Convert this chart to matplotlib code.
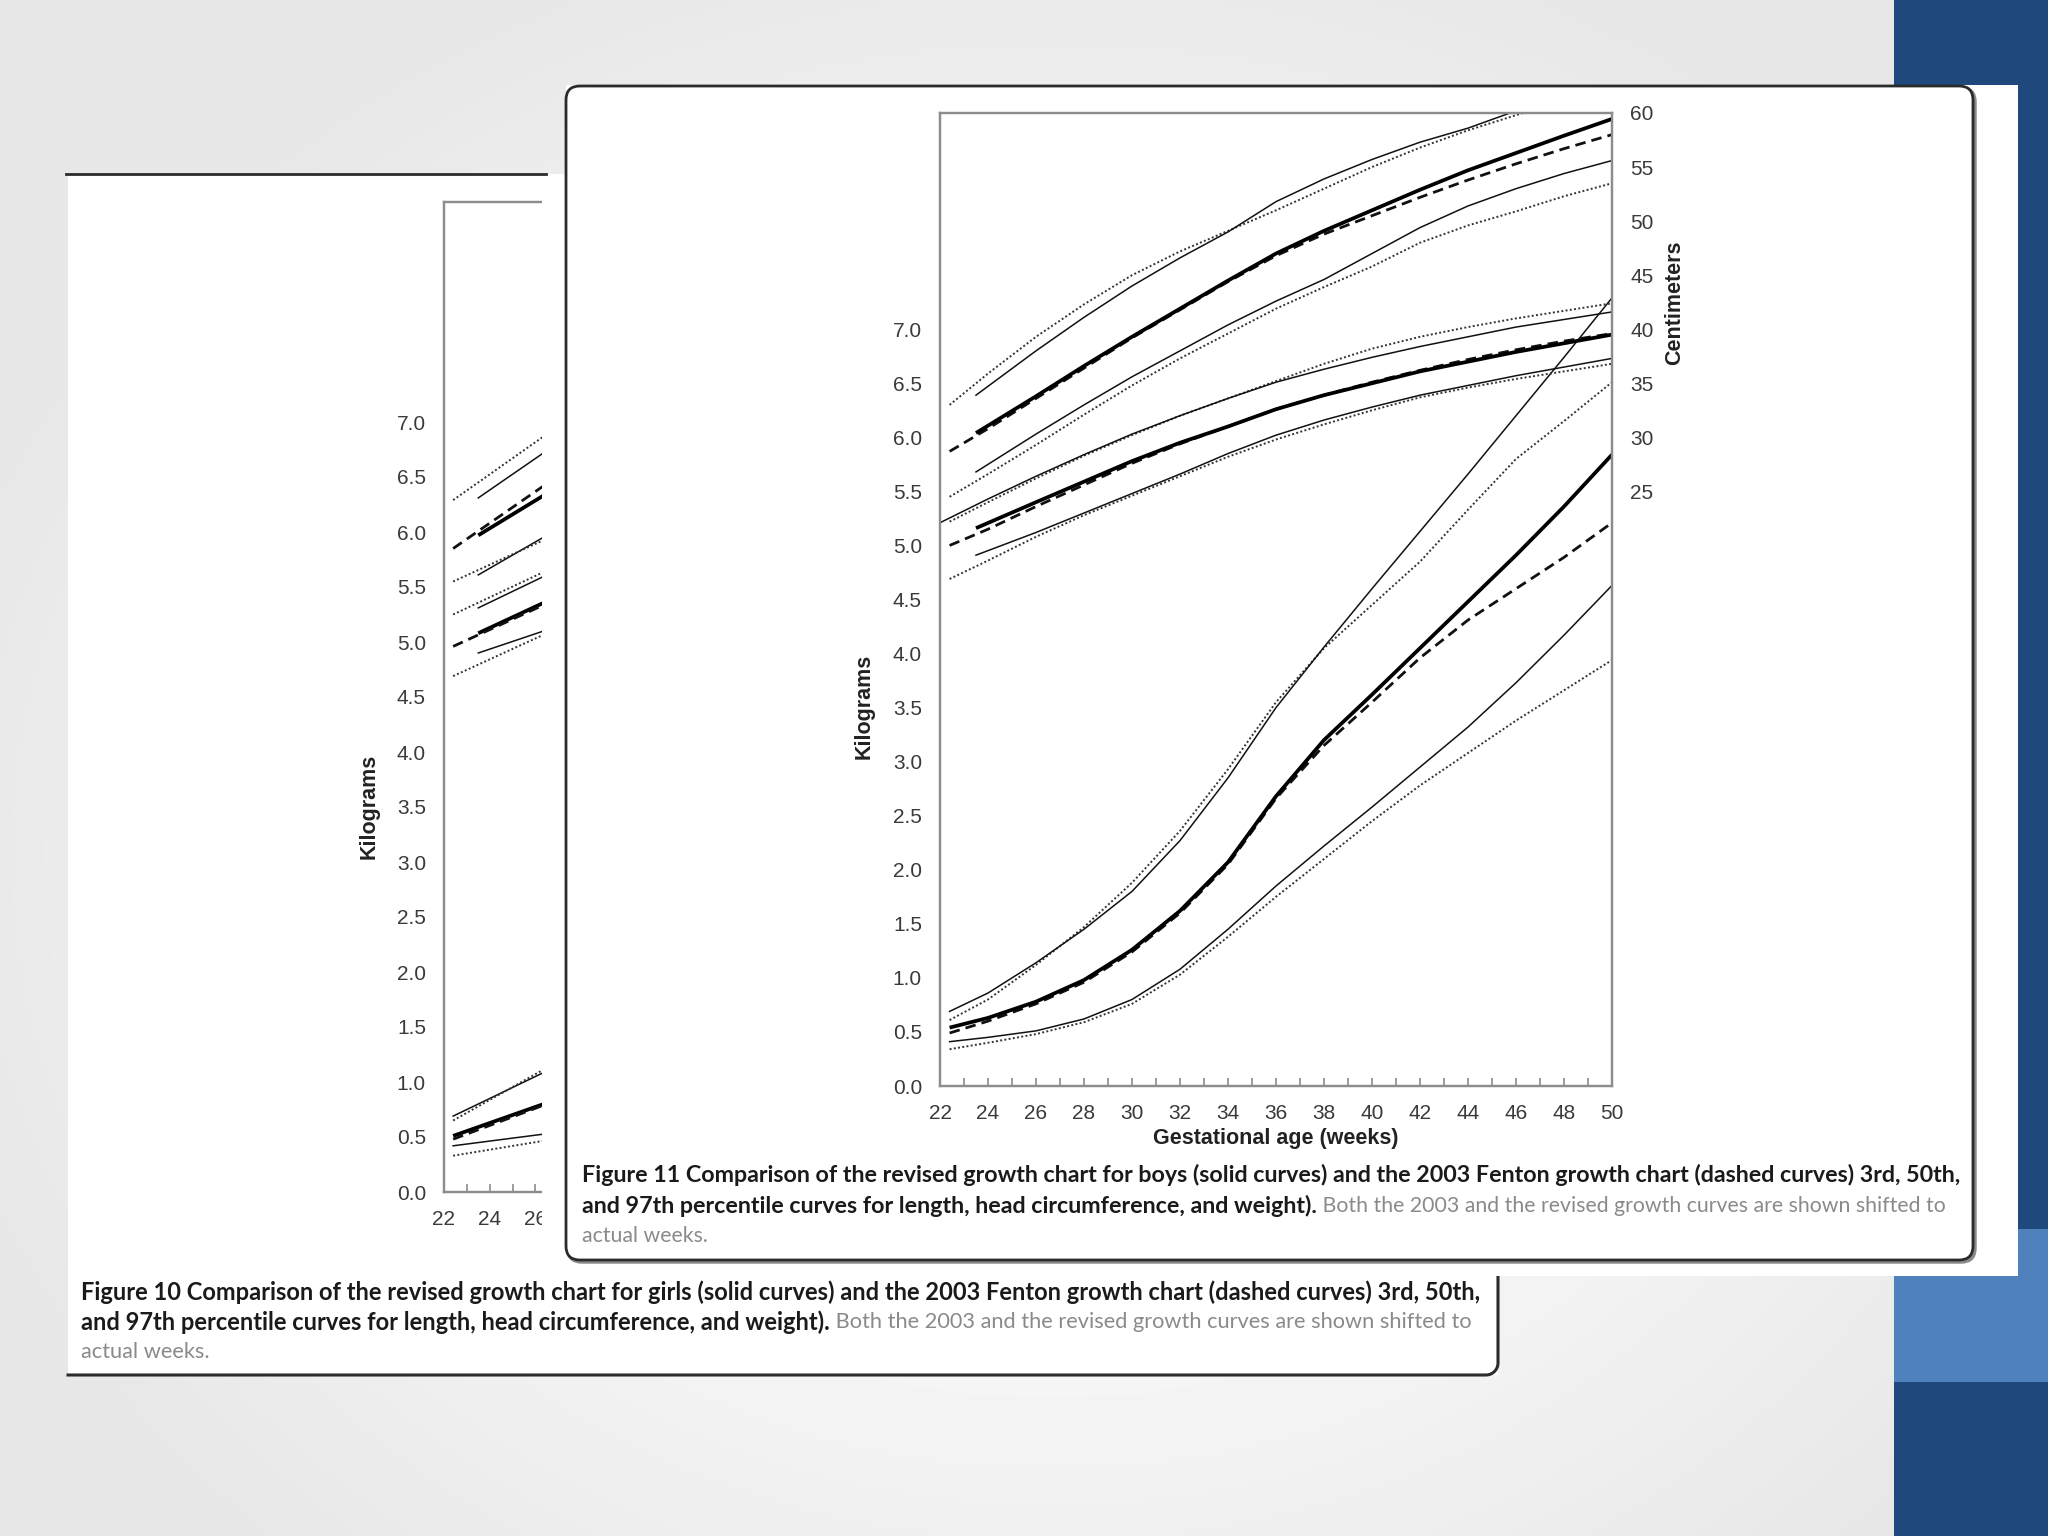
import numpy as np
import matplotlib
matplotlib.use('Agg')
import matplotlib.pyplot as plt
from matplotlib.patches import Rectangle, FancyBboxPatch

# ---------------- Figure 11 (boys) ----------------
wk_fen = [22.4, 24, 26, 28, 30, 32, 34, 36, 38, 40, 42, 44, 46, 48, 50]
wk_rev = [23.5, 26, 28, 30, 32, 34, 36, 38, 40, 42, 44, 46, 48, 50]
wk_hc97 = [22, 24, 26, 28, 30, 32, 34, 36, 38, 40, 42, 44, 46, 48, 50]

# length (cm)
len_rev97 = [33.9, 38.0, 41.1, 44.0, 46.6, 49.0, 51.8, 53.9, 55.7, 57.3, 58.6, 60.2, 61.5, 62.7]
len_fen97 = [33.0, 35.9, 39.3, 42.3, 45.0, 47.2, 49.1, 51.0, 53.0, 55.0, 56.8, 58.4, 59.8, 61.2, 62.5]
len_rev50 = [30.4, 33.8, 36.6, 39.3, 41.9, 44.5, 47.0, 49.1, 51.0, 52.9, 54.7, 56.3, 57.9, 59.45]
len_fen50 = [28.7, 30.8, 33.6, 36.4, 39.2, 41.8, 44.4, 46.8, 48.8, 50.5, 52.2, 53.8, 55.3, 56.7, 58.0]
len_rev3 = [26.8, 30.3, 33.0, 35.6, 38.0, 40.4, 42.6, 44.6, 47.0, 49.4, 51.4, 53.0, 54.4, 55.6]
len_fen3 = [24.5, 26.6, 29.3, 32.1, 34.8, 37.3, 39.6, 41.9, 43.9, 45.8, 48.0, 49.6, 50.9, 52.3, 53.5]

# head circumference (cm)
hc_rev97 = [22.1, 24.3, 26.4, 28.4, 30.3, 32.0, 33.6, 35.1, 36.3, 37.4, 38.4, 39.3, 40.2, 40.9, 41.6]
hc_fen97 = [22.2, 24.0, 26.2, 28.3, 30.2, 32.0, 33.6, 35.2, 36.8, 38.2, 39.3, 40.2, 41.0, 41.7, 42.4]
hc_rev50 = [21.6, 24.0, 25.9, 27.8, 29.5, 31.0, 32.6, 33.9, 35.0, 36.1, 37.0, 37.9, 38.7, 39.5]
hc_fen50 = [20.0, 21.5, 23.6, 25.6, 27.6, 29.4, 31.0, 32.6, 33.9, 35.1, 36.2, 37.2, 38.1, 38.9, 39.6]
hc_rev3 = [19.1, 21.2, 23.0, 24.8, 26.6, 28.5, 30.2, 31.6, 32.8, 33.9, 34.8, 35.7, 36.5, 37.3]
hc_fen3 = [16.9, 18.6, 20.8, 22.8, 24.6, 26.4, 28.2, 29.8, 31.2, 32.5, 33.7, 34.6, 35.4, 36.1, 36.8]

# weight (kg), all on the 22.4.. grid
wt_rev97 = [0.69, 0.86, 1.14, 1.45, 1.80, 2.27, 2.85, 3.50, 4.06, 4.60, 5.13, 5.66, 6.20, 6.74, 7.29]
wt_fen97 = [0.61, 0.80, 1.12, 1.47, 1.88, 2.36, 2.93, 3.55, 4.05, 4.45, 4.85, 5.33, 5.80, 6.15, 6.51]
wt_rev50 = [0.54, 0.63, 0.78, 0.98, 1.26, 1.62, 2.07, 2.68, 3.20, 3.62, 4.05, 4.48, 4.91, 5.36, 5.84]
wt_fen50 = [0.49, 0.60, 0.76, 0.96, 1.24, 1.60, 2.05, 2.66, 3.15, 3.55, 3.96, 4.31, 4.60, 4.89, 5.21]
wt_rev3 = [0.41, 0.45, 0.51, 0.62, 0.80, 1.08, 1.45, 1.85, 2.22, 2.58, 2.95, 3.32, 3.73, 4.17, 4.63]
wt_fen3 = [0.34, 0.40, 0.48, 0.59, 0.76, 1.03, 1.38, 1.75, 2.10, 2.45, 2.78, 3.08, 3.38, 3.66, 3.94]

# ---------------- Figure 10 (girls), only the left strip is visible ----------------
g_wk_fen = [22.4, 26.5, 28]
g_wk_rev = [23.5, 26.5, 28]
g_len = {'rev97': [33.1, 37.4, 39.5], 'fen97': [32.9, 38.9, 40.8],
         'rev50': [29.7, 33.5, 35.4], 'fen50': [28.5, 34.4, 36.4],
         'rev3': [26.1, 29.7, 31.5], 'fen3': [25.5, 29.4, 31.2]}
g_hc = {'rev97': [23.1, 26.1, 27.3], 'fen97': [22.5, 26.5, 27.9],
        'rev50': [20.8, 23.7, 24.8], 'fen50': [19.6, 23.5, 24.9],
        'rev3': [19.0, 21.1, 22.0], 'fen3': [16.9, 20.8, 22.1]}
g_wt = {'rev97': [0.69, 1.10, 1.32], 'fen97': [0.65, 1.13, 1.35],
        'rev50': [0.51, 0.81, 0.95], 'fen50': [0.48, 0.80, 0.94],
        'rev3': [0.42, 0.53, 0.60], 'fen3': [0.33, 0.47, 0.55]}

kg_ticks = np.arange(0, 7.01, 0.5)
cm_ticks = list(range(25, 61, 5))
week_ticks = list(range(22, 51, 2))

cap11 = [[("Figure 11 Comparison of the revised growth chart for boys (solid curves) and the 2003 Fenton growth chart (dashed curves) 3rd, 50th,", True)],
         [("and 97th percentile curves for length, head circumference, and weight).", True),
          (" Both the 2003 and the revised growth curves are shown shifted to", False)],
         [("actual weeks.", False)]]
cap10 = [[("Figure 10 Comparison of the revised growth chart for girls (solid curves) and the 2003 Fenton growth chart (dashed curves) 3rd, 50th,", True)],
         [("and 97th percentile curves for length, head circumference, and weight).", True),
          (" Both the 2003 and the revised growth curves are shown shifted to", False)],
         [("actual weeks.", False)]]

plt.rcParams['font.family'] = ['Liberation Sans', 'DejaVu Sans']
W, H = 2048, 1536
fig = plt.figure(figsize=(W / 100, H / 100), dpi=100)


def px_rect(left, top, right, bottom):
    return [left / W, 1 - bottom / H, (right - left) / W, (bottom - top) / H]


STY = {
    'rev_thin': dict(color='#111111', lw=1.1, ls='-'),
    'rev_thick': dict(color='#000000', lw=2.7, ls='-', solid_capstyle='butt'),
    'fen_dot': dict(color='#333333', lw=1.4, ls=(0, (1, 1.2))),
    'fen_dash': dict(color='#111111', lw=2.0, ls=(0, (3.8, 2.2))),
}


def style_axes(ax, ax2, show_cm, max_label_week=50):
    ax.set_xlim(22, 50)
    ax.set_ylim(0, 9)
    ax2.set_ylim(-30, 60)
    ax.set_yticks(kg_ticks)
    ax.set_yticklabels([f'{v:.1f}' for v in kg_ticks])
    ax.set_xticks(week_ticks)
    ax.set_xticklabels([str(w) if w <= max_label_week else '' for w in week_ticks])
    ax.set_xticks(range(23, 50, 2), minor=True)
    ax.tick_params(axis='x', which='both', direction='in', length=6, width=1.2,
                   color='#8c8c8c', labelsize=15, pad=13, labelcolor='#3a3a3a')
    ax.tick_params(axis='y', length=0, labelsize=15, pad=13, labelcolor='#3a3a3a')
    for s in list(ax.spines.values()) + list(ax2.spines.values()):
        s.set_color('#8c8c8c')
        s.set_linewidth(1.6)
    ax.set_ylabel('Kilograms', fontsize=15.5, fontweight='bold', color='#222222')
    if show_cm:
        ax2.set_yticks(cm_ticks)
        ax2.tick_params(axis='y', length=0, labelsize=15, pad=13, labelcolor='#3a3a3a')
        ax2.set_ylabel('Centimeters', fontsize=15.5, fontweight='bold', color='#222222')
        ax2.yaxis.set_label_coords(1.078, 0.805)
    else:
        ax2.set_yticks([])


# ---- slide background ----
bg = fig.add_axes([0, 0, 1, 1])
yy, xx = np.mgrid[0:H:8, 0:W:8]
r = np.hypot((xx - 1050) / 1150.0, (yy - 850) / 950.0)
shade = 0.99 - 0.085 * np.clip(r, 0, 1) ** 1.7
bg.imshow(shade, cmap='gray', vmin=0, vmax=1, extent=(0, W, H, 0),
          aspect='auto', interpolation='bilinear')
bg.set_xlim(0, W)
bg.set_ylim(H, 0)
bg.axis('off')
bg.add_patch(Rectangle((1894, 0), W - 1894, H, fc='#1f497d', ec='none'))
bg.add_patch(Rectangle((1894, 1229), W - 1894, 153, fc='#4f81bd', ec='none'))

# Figure 10 panel (white card, top and bottom rules)
bg.add_patch(Rectangle((68, 174), 1430, 1201, fc='white', ec='none'))
bg.plot([66, 546], [174, 174], color='#2b2b2b', lw=2)
ang = np.linspace(0, np.pi / 2, 12)
arc_x = 1486 + 12 * np.sin(ang)
arc_y = 1363 + 12 * np.cos(ang)
bg.plot(np.r_[68, arc_x, 1498], np.r_[1375, arc_y, 1270], color='#2b2b2b', lw=2.2)

# ---- Figure 10 axes (mostly hidden behind Figure 11) ----
ax10 = fig.add_axes(px_rect(444, 202, 1084, 1192))
ax10b = ax10.twinx()
style_axes(ax10, ax10b, False, max_label_week=26)
ax10.yaxis.set_label_coords(-0.10, 0.39)
pairs10 = [('rev97', 'rev_thin'), ('fen97', 'fen_dot'), ('rev50', 'rev_thick'),
           ('fen50', 'fen_dash'), ('rev3', 'rev_thin'), ('fen3', 'fen_dot')]
for key, st in pairs10:
    wx = g_wk_rev if key.startswith('rev') else g_wk_fen
    ax10b.plot(wx, g_len[key], **STY[st])
    ax10b.plot(wx, g_hc[key], **STY[st])
    ax10.plot(g_wk_fen, g_wt[key], **STY[st])

# ---- Figure 11 card on top ----
ov = fig.add_axes([0, 0, 1, 1])
ov.set_xlim(0, W)
ov.set_ylim(H, 0)
ov.axis('off')
ov.add_patch(Rectangle((566, 85), 2018 - 566, 1276 - 85, fc='white', ec='none'))
ov.add_patch(Rectangle((542, 177), 30, 1276 - 177, fc='white', ec='none'))
ov.add_patch(FancyBboxPatch((568, 88), 1407, 1174, boxstyle='round,pad=0,rounding_size=14',
                            fc='none', ec='#8a8a8a', lw=2.5))
ov.add_patch(FancyBboxPatch((566, 86), 1407, 1174, boxstyle='round,pad=0,rounding_size=14',
                            fc='white', ec='#2b2b2b', lw=2))

ax = fig.add_axes(px_rect(940, 113, 1612, 1086))
ax2 = ax.twinx()
style_axes(ax, ax2, True)
ax.yaxis.set_label_coords(-0.097, 0.39)
ax.set_xlabel('Gestational age (weeks)', fontsize=15.5, fontweight='bold', color='#222222')
ax.xaxis.set_label_coords(0.5, -0.043)

# length and head circumference on the cm scale
ax2.plot(wk_fen, len_fen97, **STY['fen_dot'])
ax2.plot(wk_rev, len_rev97, **STY['rev_thin'])
ax2.plot(wk_fen, len_fen50, **STY['fen_dash'])
ax2.plot(wk_rev, len_rev50, **STY['rev_thick'])
ax2.plot(wk_fen, len_fen3, **STY['fen_dot'])
ax2.plot(wk_rev, len_rev3, **STY['rev_thin'])
ax2.plot(wk_fen, hc_fen97, **STY['fen_dot'])
ax2.plot(wk_hc97, hc_rev97, **STY['rev_thin'])
ax2.plot(wk_fen, hc_fen50, **STY['fen_dash'])
ax2.plot(wk_rev, hc_rev50, **STY['rev_thick'])
ax2.plot(wk_fen, hc_fen3, **STY['fen_dot'])
ax2.plot(wk_rev, hc_rev3, **STY['rev_thin'])
# weight on the kg scale
ax.plot(wk_fen, wt_fen97, **STY['fen_dot'])
ax.plot(wk_fen, wt_rev97, **STY['rev_thin'])
ax.plot(wk_fen, wt_fen50, **STY['fen_dash'])
ax.plot(wk_fen, wt_rev50, **STY['rev_thick'])
ax.plot(wk_fen, wt_fen3, **STY['fen_dot'])
ax.plot(wk_fen, wt_rev3, **STY['rev_thin'])

# ---- captions ----
renderer = fig.canvas.get_renderer()
cap_family = ['Lato', 'DejaVu Sans']


def text_w(s, size, bold):
    t = fig.text(0, 0, s, fontsize=size, family=cap_family,
                 fontweight='bold' if bold else 'normal')
    w = t.get_window_extent(renderer).width
    t.remove()
    return w


def caption(lines, x0, ys, end1, end2):
    size = 12 * (end1 - x0) / text_w(lines[0][0][0], 12, True)
    bold2, gray2 = lines[1][0][0], lines[1][1][0]
    room = end2 - x0 - text_w(bold2, size, True)
    gsize = size * room / text_w(gray2, size, False)
    for parts, y in zip(lines, ys):
        x = x0
        for s, bold in parts:
            sz = size if bold else gsize
            fig.text(x / W, 1 - y / H, s, fontsize=sz, family=cap_family,
                     fontweight='bold' if bold else 'normal',
                     color='#1a1a1a' if bold else '#8a8a8a', va='center', ha='left')
            x += text_w(s, sz, bold)


caption(cap11, 582, [1175, 1206, 1236], 1955, 1944)
caption(cap10, 81, [1292, 1322, 1352], 1473, 1469)

fig.savefig('out.png', dpi=100)
